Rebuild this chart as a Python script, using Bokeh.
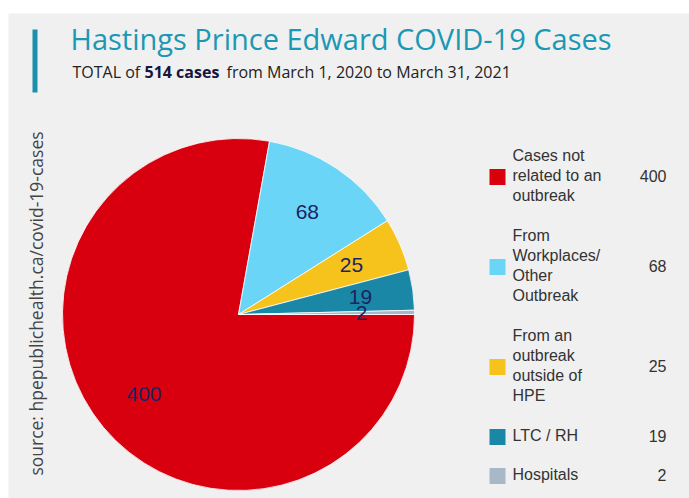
import math
from bokeh.plotting import figure
from bokeh.models import Range1d, ColumnDataSource
from bokeh.core.properties import value
from bokeh.embed import file_html
from bokeh.resources import INLINE

# ---------------- data ----------------
categories = [
    ["Cases not", "related to an", "outbreak"],
    ["From", "Workplaces/", "Other", "Outbreak"],
    ["From an", "outbreak", "outside of", "HPE"],
    ["LTC / RH"],
    ["Hospitals"],
]
counts = [400, 68, 25, 19, 2]
colors = ["#d8000f", "#6bd5f7", "#f6c21c", "#1b87a6", "#a9b8c8"]
title_text = "Hastings Prince Edward COVID-19 Cases"
subtitle_parts = ["TOTAL of", "514 cases", "from March 1, 2020 to March 31, 2021"]
source_text = "source: hpepublichealth.ca/covid-19-cases"

W, H = 689, 498


def Y(py):
    return H - py


p = figure(width=W, height=H, x_range=Range1d(0, W), y_range=Range1d(0, H),
           output_backend="svg", toolbar_location=None,
           x_axis_location=None, y_axis_location=None, min_border=0)
p.grid.visible = False
p.outline_line_color = None
p.background_fill_color = "white"
p.border_fill_color = "white"

# grey panel
p.quad(left=[8], right=[W], bottom=[0], top=[Y(13)], fill_color="#f0f0f0", line_color=None)

# accent bar
p.quad(left=[32], right=[37], bottom=[Y(92)], top=[Y(29)], fill_color="#1b8fab", line_color=None)

# title
p.text(x=[70], y=[Y(38)], text=[title_text], text_font=value("Open Sans"),
       text_font_size=value("29px"), text_color="#1b98b4", text_baseline="middle",
       text_align="left")

# subtitle
sub_x = [72, 144, 226]
sub_fonts_style = ["normal", "bold", "normal"]
sub_cols = ["#222222", "#16163f", "#222222"]
for sx, txt, st, col in zip(sub_x, subtitle_parts, sub_fonts_style, sub_cols):
    p.text(x=[sx], y=[Y(71)], text=[txt], text_font=value("Open Sans"),
           text_font_size=value("16px"), text_font_style=st, text_color=col,
           text_baseline="middle", text_align="left")

# source (vertical)
p.text(x=[35], y=[Y(303)], text=[source_text], angle=math.pi / 2,
       text_font=value("Open Sans"), text_font_size=value("17.5px"), text_color="#444444",
       text_baseline="middle", text_align="center")

# ---------------- pie ----------------
cx, cy, R = 238, Y(314), 176
total = sum(counts)
starts, ends, mids = [], [], []
acc = 0.0
order = list(range(len(counts)))[::-1]  # smallest first, counterclockwise from east
st_map = {}
for i in order:
    a0 = acc / total * 2 * math.pi
    acc += counts[i]
    a1 = acc / total * 2 * math.pi
    st_map[i] = (a0, a1)
for i in range(len(counts)):
    starts.append(st_map[i][0])
    ends.append(st_map[i][1])
    mids.append((st_map[i][0] + st_map[i][1]) / 2)

src = ColumnDataSource(dict(start=starts, end=ends, color=colors))
p.wedge(x=cx, y=cy, radius=R, start_angle="start", end_angle="end",
        fill_color="color", line_color="white", line_width=0.8, source=src)

lr = 0.7 * R
lx = [cx + lr * math.cos(m) for m in mids]
ly = [cy + lr * math.sin(m) for m in mids]
p.text(x=lx, y=ly, text=[str(c) for c in counts], text_font=value("Liberation Sans"),
       text_font_size=value("21px"), text_color="#1c2461", text_align="center",
       text_baseline="middle")

# ---------------- legend ----------------
item_centers = [175, 265, 365, 435, 474]
line_h = 19.8
for cat, yc, col, c in zip(categories, item_centers, colors, counts):
    n = len(cat)
    ys = [Y(yc - (n - 1) * line_h / 2 + k * line_h) for k in range(n)]
    p.text(x=[512] * n, y=ys, text=cat, text_font=value("Liberation Sans"),
           text_font_size=value("16px"), text_color="#333333", text_align="left",
           text_baseline="middle")
    p.rect(x=[497], y=[Y(yc + 1.5)], width=16, height=16, fill_color=col, line_color=None)
    p.text(x=[666], y=[Y(yc)], text=[str(c)], text_font=value("Liberation Sans"),
           text_font_size=value("16px"), text_color="#333333", text_align="right",
           text_baseline="middle")

open("out.html", "w").write(file_html(p, INLINE))
